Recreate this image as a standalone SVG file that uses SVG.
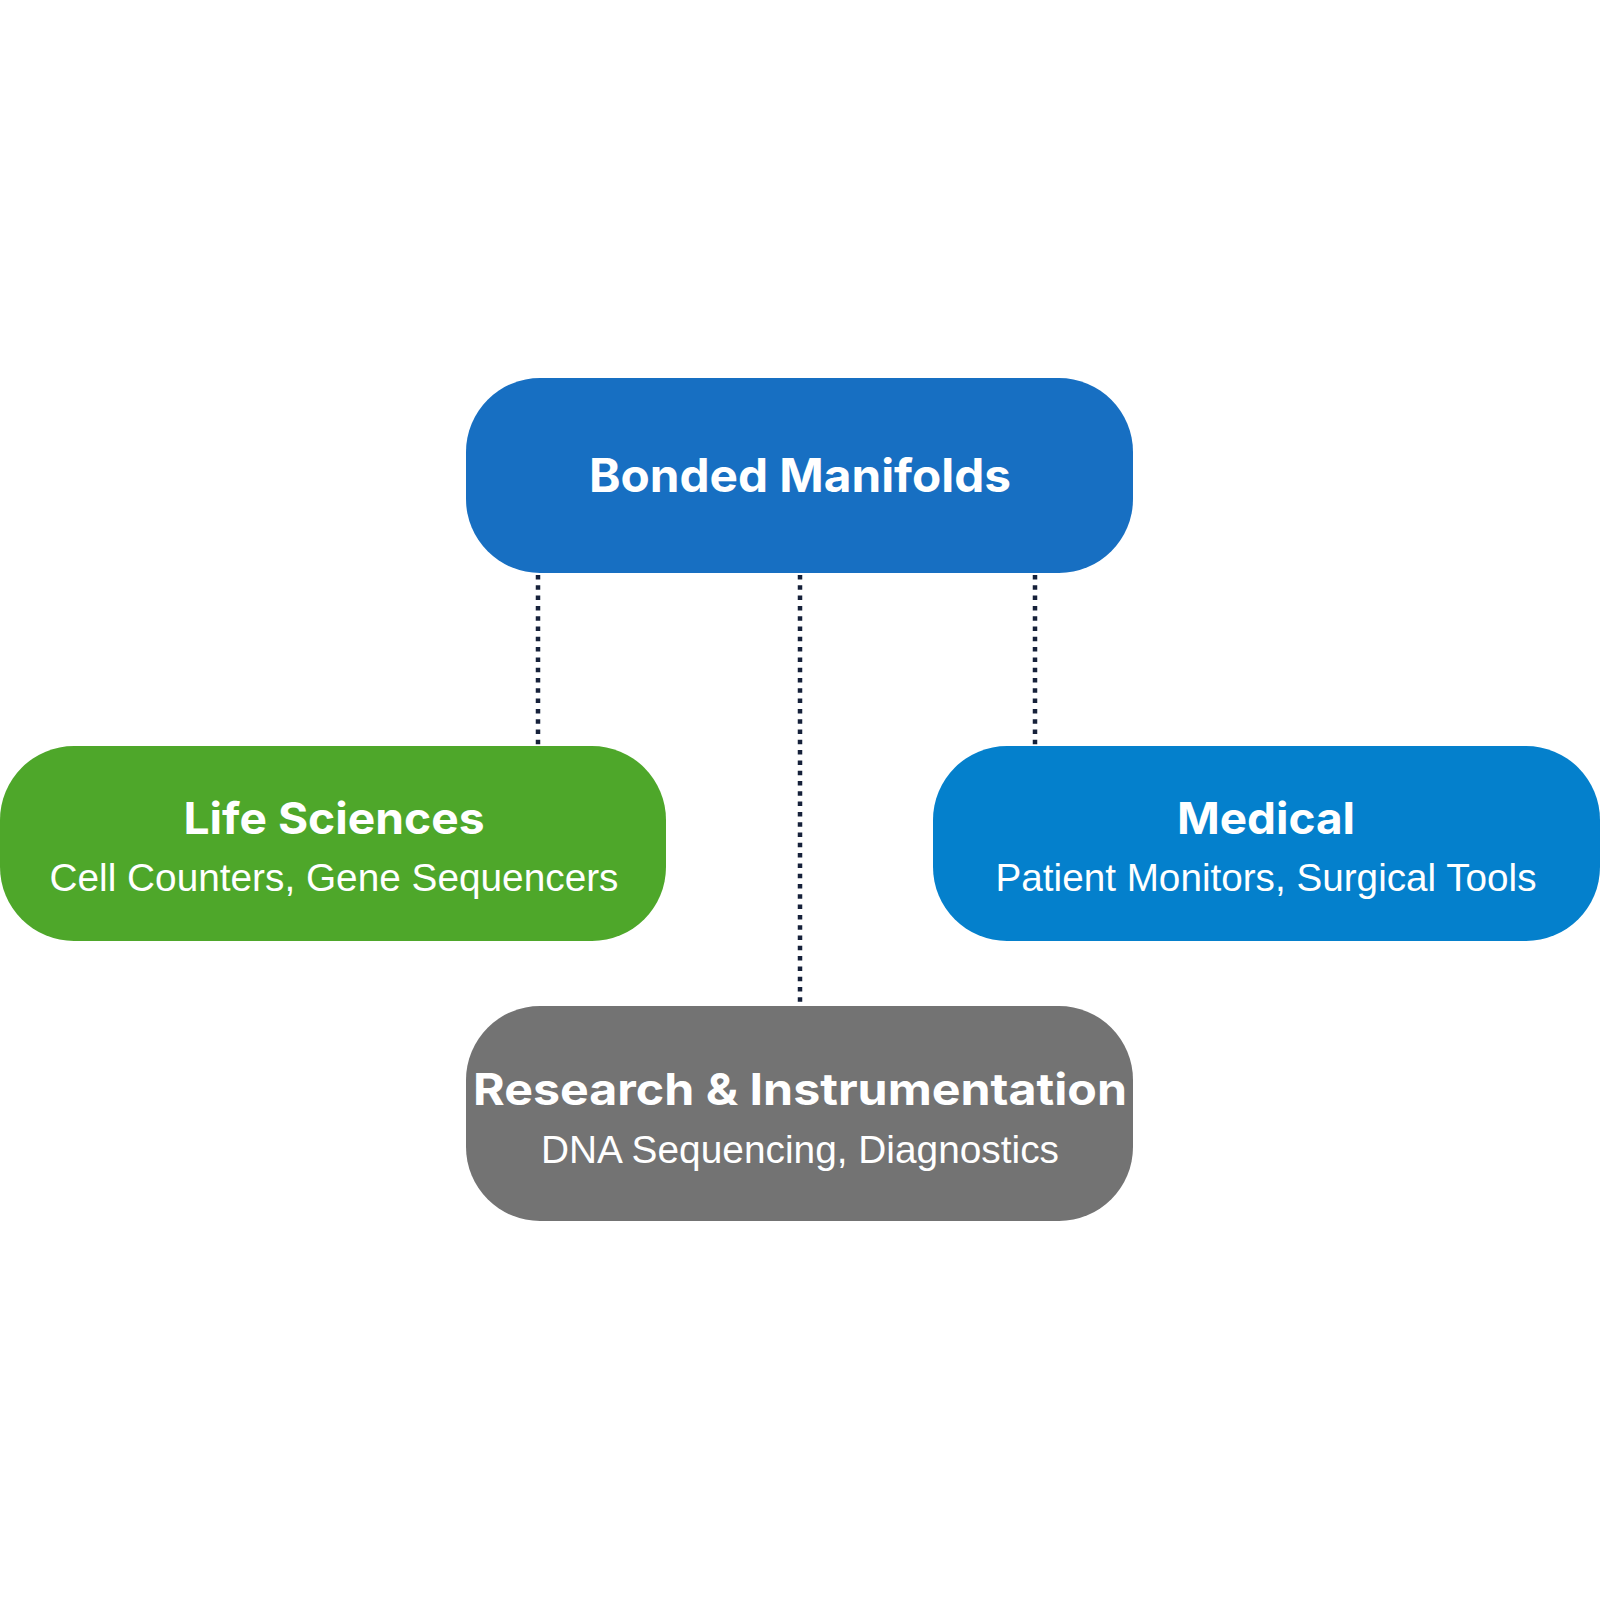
<svg xmlns="http://www.w3.org/2000/svg" width="1600" height="1600" viewBox="0 0 1600 1600">
<style>
.title{font-family:Inter,"Noto Sans","Liberation Sans",sans-serif;font-weight:700;fill:#ffffff;text-anchor:middle}
.sub{font-family:"Liberation Sans",Arial,sans-serif;font-weight:400;fill:#ffffff;text-anchor:middle}
.conn{stroke:#16213a;stroke-width:4.5;stroke-dasharray:4.5 5.8;fill:none}
</style>
<rect width="1600" height="1600" fill="#ffffff"/>
<g id="connectors">
<line class="conn" x1="538" y1="575" x2="538" y2="746"/>
<line class="conn" x1="800" y1="575" x2="800" y2="1006"/>
<line class="conn" x1="1035" y1="575" x2="1035" y2="746"/>
</g>
<g id="node-bonded">
<rect x="466" y="378" width="667" height="195" rx="74" fill="#176fc2"/>
<text class="title" x="800" y="492" font-size="46" textLength="422" lengthAdjust="spacingAndGlyphs">Bonded Manifolds</text>
</g>
<g id="node-life">
<rect x="0" y="746" width="666" height="195" rx="74" fill="#4ea72a"/>
<text class="title" x="334" y="834" font-size="44" textLength="301" lengthAdjust="spacingAndGlyphs">Life Sciences</text>
<text class="sub" x="334" y="891" font-size="39" textLength="569" lengthAdjust="spacingAndGlyphs">Cell Counters, Gene Sequencers</text>
</g>
<g id="node-medical">
<rect x="933" y="746" width="667" height="195" rx="74" fill="#0480cc"/>
<text class="title" x="1266" y="834" font-size="44" textLength="178" lengthAdjust="spacingAndGlyphs">Medical</text>
<text class="sub" x="1266" y="891" font-size="39" textLength="541" lengthAdjust="spacingAndGlyphs">Patient Monitors, Surgical Tools</text>
</g>
<g id="node-research">
<rect x="466" y="1006" width="667" height="215" rx="74" fill="#737373"/>
<text class="title" x="800" y="1105" font-size="44" textLength="654" lengthAdjust="spacingAndGlyphs">Research &amp; Instrumentation</text>
<text class="sub" x="800" y="1163" font-size="39" textLength="518" lengthAdjust="spacingAndGlyphs">DNA Sequencing, Diagnostics</text>
</g>
</svg>
